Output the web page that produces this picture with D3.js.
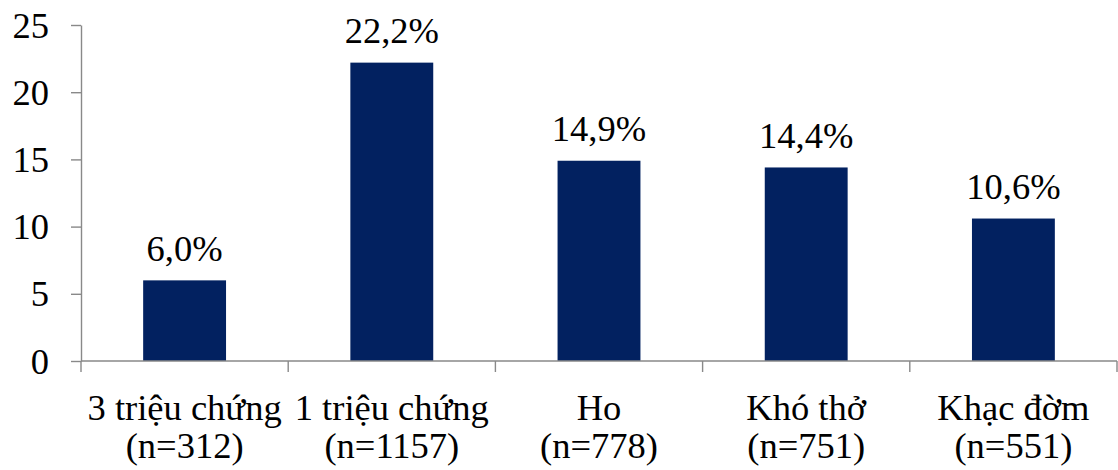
<!DOCTYPE html>
<html>
<head>
<meta charset="utf-8">
<script src="https://cdn.jsdelivr.net/npm/d3@7"></script>
</head>
<body style="margin:0">
<svg id="chart" width="1118" height="470" style="display:block;font-family:'Liberation Serif','Times New Roman',serif"></svg>
<script>
// Tỷ lệ (%) theo nhóm triệu chứng
const categories = ["3 triệu chứng", "1 triệu chứng", "Ho", "Khó thở", "Khạc đờm"];
const sampleSizes = ["(n=312)", "(n=1157)", "(n=778)", "(n=751)", "(n=551)"];
const values = [6.0, 22.2, 14.9, 14.4, 10.6];
const yTicks = [0, 5, 10, 15, 20, 25];

const svg = d3.select("#chart");
const plotLeft = 81, plotRight = 1117, plotTop = 25, plotBottom = 361;
const axisColor = "#898989";
const barColor = "#022160";
const labelFont = '"Liberation Serif"';

// Apply the serif face to a text selection
function serifText(sel) {
  sel.attr("font-family", "Liberation Serif")
    .style("font-family", labelFont)
    .style("font-size", "36.5px")
    .style("fill", "#000");
}

const x = d3.scaleBand().domain(categories).range([plotLeft, plotRight]).padding(0);
const y = d3.scaleLinear().domain([0, 25]).range([plotBottom, plotTop]);
const barW = x.bandwidth() * 0.4;

// Bars
svg.append("g").selectAll("rect")
  .data(values)
  .join("rect")
  .attr("x", (d, i) => x(categories[i]) + x.bandwidth() / 2 - barW / 2)
  .attr("y", d => y(d))
  .attr("width", barW)
  .attr("height", d => y(0) - y(d))
  .attr("fill", barColor);

// Value labels
svg.append("g").selectAll("text")
  .data(values)
  .join("text")
  .attr("x", (d, i) => x(categories[i]) + x.bandwidth() / 2)
  .attr("y", d => y(d) - 19.5)
  .attr("text-anchor", "middle")
  .call(serifText)
  .text(d => d.toFixed(1).replace(".", ",") + "%");

// Y axis
const yAxis = svg.append("g").attr("transform", `translate(${plotLeft},0)`)
  .call(d3.axisLeft(y).tickValues(yTicks).tickSize(10).tickSizeOuter(0).tickPadding(22));
yAxis.attr("font-family", null).attr("font-size", null);
yAxis.select(".domain").attr("stroke", axisColor).attr("stroke-width", 1.4);
yAxis.selectAll(".tick line").attr("stroke", axisColor).attr("stroke-width", 1.4);
yAxis.selectAll(".tick text")
  .call(serifText)
  .attr("dy", "0.33em");

// X axis: baseline with boundary ticks between categories
const boundaries = categories.map(c => x(c)).concat([x(categories[categories.length - 1]) + x.bandwidth()]);
const xg = svg.append("g");
xg.append("line")
  .attr("x1", plotLeft).attr("x2", plotRight)
  .attr("y1", y(0)).attr("y2", y(0))
  .attr("stroke", axisColor).attr("stroke-width", 1.4);
xg.selectAll("line.tick")
  .data(boundaries)
  .join("line")
  .attr("class", "tick")
  .attr("x1", d => d).attr("x2", d => d)
  .attr("y1", y(0)).attr("y2", y(0) + 11)
  .attr("stroke", axisColor).attr("stroke-width", 1.4);

// Category labels (two lines)
const labels = svg.append("g").selectAll("text")
  .data(categories)
  .join("text")
  .attr("text-anchor", "middle")
  .call(serifText);
labels.append("tspan")
  .attr("x", d => x(d) + x.bandwidth() / 2)
  .attr("y", 420)
  .text(d => d);
labels.append("tspan")
  .attr("x", d => x(d) + x.bandwidth() / 2)
  .attr("y", 458)
  .text((d, i) => sampleSizes[i]);
</script>
</body>
</html>
